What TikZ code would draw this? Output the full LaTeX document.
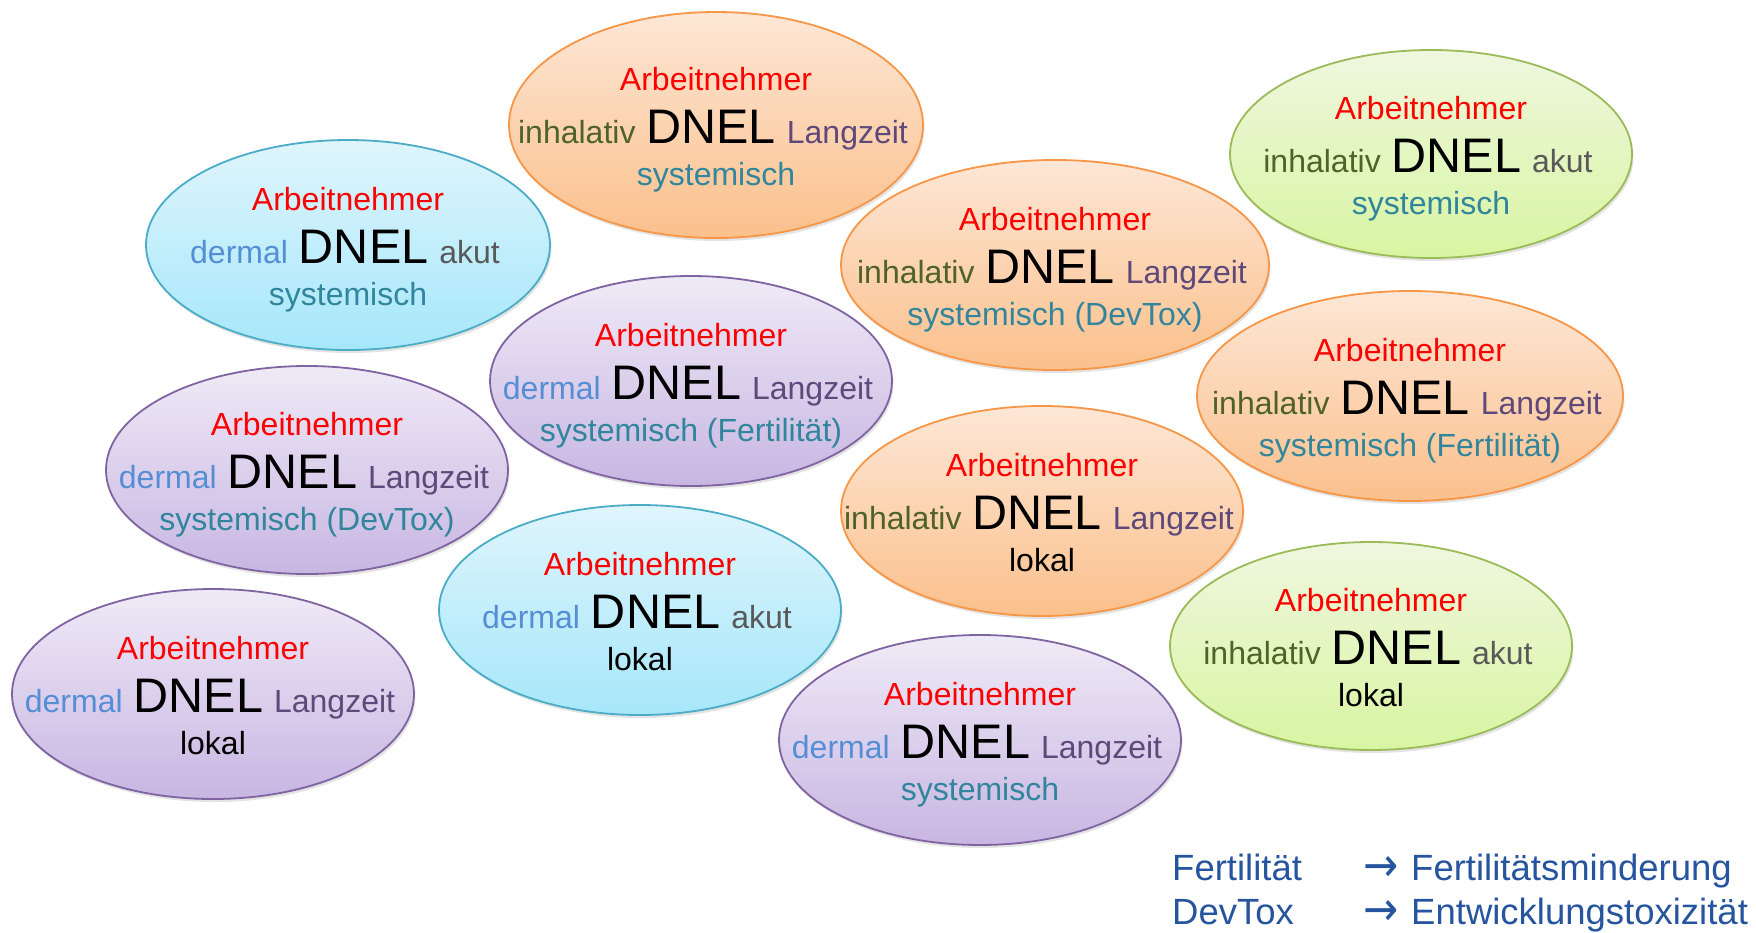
\documentclass[tikz,border=0pt]{standalone}
\usepackage{fontspec}
\setmainfont{Liberation Sans}
\newfontfamily\arrowfont{DejaVu Sans}
\usetikzlibrary{shapes.geometric,shadows}
\definecolor{cRed}{HTML}{FF0000}
\definecolor{cInh}{HTML}{4F6228}
\definecolor{cDer}{HTML}{558ED5}
\definecolor{cLang}{HTML}{5F497A}
\definecolor{cAkut}{HTML}{595959}
\definecolor{cSys}{HTML}{31859C}
\definecolor{cLeg}{HTML}{26549F}
\definecolor{orBorder}{HTML}{F79646}
\definecolor{orTop}{HTML}{FDE7D6}
\definecolor{orBot}{HTML}{FBC08C}
\definecolor{grBorder}{HTML}{9BBB59}
\definecolor{grTop}{HTML}{EFF7DF}
\definecolor{grBot}{HTML}{D8F5A2}
\definecolor{cyBorder}{HTML}{4BACC6}
\definecolor{cyTop}{HTML}{DFF5FC}
\definecolor{cyBot}{HTML}{A6E7FA}
\definecolor{puBorder}{HTML}{8064A2}
\definecolor{puTop}{HTML}{EFEAF7}
\definecolor{puBot}{HTML}{C8B6E2}
\newcommand\fsmall{\fontsize{32}{38}\selectfont}
\newcommand\fbig{\fontsize{48.5}{56}\selectfont}
\tikzset{
  bub/.style={ellipse, inner sep=0pt, line width=1.8pt,
    drop shadow={shadow xshift=1.5pt, shadow yshift=-3pt, opacity=0.22}},
  orangeb/.style={bub, draw=orBorder, top color=orTop, bottom color=orBot},
  greenb/.style={bub, draw=grBorder, top color=grTop, bottom color=grBot},
  cyanb/.style={bub, draw=cyBorder, top color=cyTop, bottom color=cyBot},
  purpleb/.style={bub, draw=puBorder, top color=puTop, bottom color=puBot},
  lbl/.style={anchor=base, inner sep=0pt, font=\fsmall},
  legend/.style={anchor=base west, inner sep=0pt, text=cLeg, font=\fontsize{36.5}{42}\selectfont},
}
\newcommand\inh{\textcolor{cInh}{inhalativ}}
\newcommand\der{\textcolor{cDer}{dermal}}
\newcommand\lang{\textcolor{cLang}{Langzeit}}
\newcommand\akut{\textcolor{cAkut}{akut}}
\newcommand\syst[1]{\textcolor{cSys}{#1}}
\newcommand\legarrow{\scalebox{1.15}[1.3]{\arrowfont →}}
% name, style, x, y, width, height, left word, right word, bottom line
\newcommand\dnelbox[9]{%
  \node[#2, minimum width=#5pt, minimum height=#6pt] (#1) at (#3,#4) {};
  \node[lbl, text=cRed] (#1-top) at (#3,{#4-35}) {Arbeitnehmer};
  \node[lbl] (#1-mid) at ({#3-3},{#4+18}) {#7\hspace{11pt}{\fbig DNEL}\hspace{11pt}#8};
  \node[lbl] (#1-bot) at (#3,{#4+60}) {#9};
}
\begin{document}
\begin{tikzpicture}[x=1pt,y=-1pt]
\useasboundingbox[fill=white] (0,0) rectangle (1756,932);
\dnelbox{e1}{orangeb}{716}{125}{414}{226}{\inh}{\lang}{\syst{systemisch}}
\dnelbox{e2}{greenb}{1431}{154}{402}{208}{\inh}{\akut}{\syst{systemisch}}
\dnelbox{e3}{cyanb}{348}{245}{404}{210}{\der}{\akut}{\syst{systemisch}}
\dnelbox{e4}{orangeb}{1055}{265}{428}{210}{\inh}{\lang}{\syst{systemisch (DevTox)}}
\dnelbox{e5}{purpleb}{691}{381}{402}{210}{\der}{\lang}{\syst{systemisch (Fertilität)}}
\dnelbox{e6}{orangeb}{1410}{396}{426}{210}{\inh}{\lang}{\syst{systemisch (Fertilität)}}
\dnelbox{e7}{purpleb}{307}{470}{402}{208}{\der}{\lang}{\syst{systemisch (DevTox)}}
\dnelbox{e8}{orangeb}{1042}{511}{402}{210}{\inh}{\lang}{lokal}
\dnelbox{e9}{cyanb}{640}{610}{402}{210}{\der}{\akut}{lokal}
\dnelbox{e10}{greenb}{1371}{646}{402}{208}{\inh}{\akut}{lokal}
\dnelbox{e11}{purpleb}{213}{694}{402}{210}{\der}{\lang}{lokal}
\dnelbox{e12}{purpleb}{980}{740}{402}{210}{\der}{\lang}{\syst{systemisch}}
\node[legend] (l1) at (1172,880) {Fertilität};
\node[legend] (l1arr) at (1363,881) {\legarrow};
\node[legend] (l1txt) at (1411,880) {Fertilitätsminderung};
\node[legend] (l2) at (1172,924) {DevTox};
\node[legend] (l2arr) at (1363,925) {\legarrow};
\node[legend] (l2txt) at (1411,924) {Entwicklungstoxizität};
\end{tikzpicture}
\end{document}
